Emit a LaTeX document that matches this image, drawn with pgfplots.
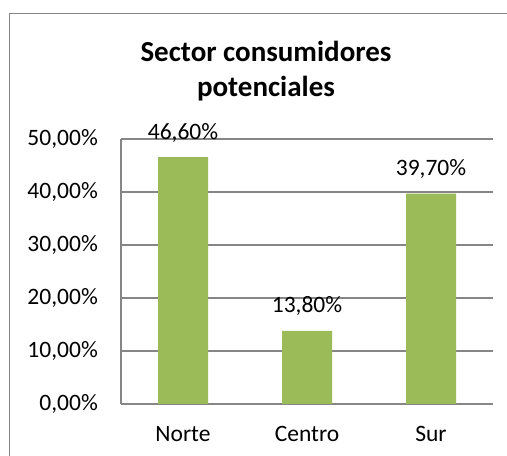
\documentclass[border=0pt]{standalone}
\usepackage{pgfplots}
\pgfplotsset{compat=1.18}
\usepackage{fontspec}
\setmainfont{Carlito}
\definecolor{bargreen}{HTML}{9BBB59}
\definecolor{gridgray}{HTML}{868686}
\begin{document}
\begin{tikzpicture}
  \useasboundingbox (0,0) rectangle (507bp,456bp);
  % chart frame (right and bottom edges fall outside the picture)
  \draw[gridgray, line width=1.5bp] (9.5bp,-5bp) -- (9.5bp,442.5bp) -- (515bp,442.5bp);
  % title
  \node[font=\bfseries\fontsize{29bp}{35bp}\selectfont, anchor=base, inner sep=0pt] at (266bp,394bp) {Sector consumidores};
  \node[font=\bfseries\fontsize{29bp}{35bp}\selectfont, anchor=base, inner sep=0pt] at (266bp,359bp) {potenciales};
  \begin{axis}[
      at={(121bp,52bp)}, anchor=south west,
      scale only axis,
      width=372bp, height=265bp,
      ybar, bar width=50bp,
      xmin=-0.5, xmax=2.5,
      ymin=0, ymax=50,
      xtick=data,
      xticklabels={Norte,Centro,Sur},
      ytick={0,10,20,30,40,50},
      /pgf/number format/assume math mode=true,
      yticklabel={\pgfmathprintnumber[fixed,fixed zerofill,precision=2,use comma]{\tick}\%},
      tick label style={font=\fontsize{23.5bp}{28bp}\selectfont},
      yticklabel style={anchor=east, inner sep=0pt, xshift=-23bp},
      xticklabel style={anchor=base, inner sep=0pt, yshift=-37bp},
      major tick length=0pt,
      tick style={draw=none},
      axis x line*=bottom,
      axis y line*=left,
      axis line style={gridgray, line width=1.2bp, -},
      ymajorgrids=true,
      grid style={gridgray, line width=1.2bp},
      nodes near coords={\pgfmathprintnumber[fixed,fixed zerofill,precision=2,use comma]{\pgfplotspointmeta}\%},
      every node near coord/.append style={anchor=base, inner sep=0pt, yshift=18bp, font=\fontsize{23.5bp}{28bp}\selectfont, text=black},
    ]
    \addplot[fill=bargreen, draw=none] coordinates {(0,46.6) (1,13.8) (2,39.7)};
  \end{axis}
\end{tikzpicture}
\end{document}
